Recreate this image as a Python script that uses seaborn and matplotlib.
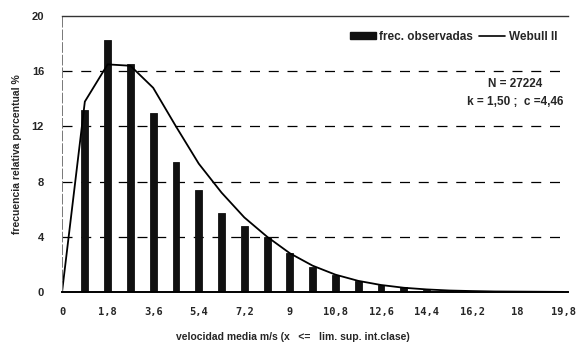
import matplotlib
matplotlib.use("Agg")
import matplotlib.pyplot as plt
import seaborn as sns
import pandas as pd
import numpy as np
from matplotlib.patches import Patch
from matplotlib.lines import Line2D

# data
speeds = [0, 0.9, 1.8, 2.7, 3.6, 4.5, 5.4, 6.3, 7.2, 8.1, 9.0, 9.9, 10.8,
          11.7, 12.6, 13.5, 14.4, 15.3, 16.2, 17.1, 18.0, 18.9, 19.8]
observed = [0, 13.2, 18.3, 16.5, 13.0, 9.4, 7.4, 5.7, 4.8, 4.0, 2.8, 1.8, 1.2,
            0.8, 0.5, 0.35, 0.15, 0.08, 0.04, 0.02, 0.01, 0.0, 0.0]
weibull = [0, 13.8, 16.5, 16.4, 14.8, 12.0, 9.3, 7.2, 5.4, 4.0, 2.8, 1.9, 1.25,
           0.8, 0.5, 0.3, 0.18, 0.1, 0.06, 0.03, 0.02, 0.01, 0.0]
tick_labels = ["0", "1,8", "3,6", "5,4", "7,2", "9", "10,8", "12,6", "14,4",
               "16,2", "18", "19,8"]
yticks = [0, 4, 8, 12, 16, 20]

sns.set_theme(style="white")
plt.rcParams['font.family'] = ['Liberation Sans', 'DejaVu Sans']

df = pd.DataFrame({"pos": np.arange(len(speeds)), "obs": observed, "wei": weibull})

fig = plt.figure(figsize=(5.8, 3.43), dpi=100)
ax = fig.add_axes([0.107, 0.149, 0.872, 0.804])

sns.barplot(data=df, x="pos", y="obs", ax=ax, color="#111111", width=0.3,
            saturation=1, native_scale=True, edgecolor="#111111", linewidth=0.6)

sns.lineplot(data=df, x="pos", y="wei", ax=ax, color="black", linewidth=1.3)

ax.set_xlim(0, 22.2)
ax.set_ylim(0, 20)
ax.set_yticks(yticks)
ax.set_yticklabels([str(v) for v in yticks], fontweight="bold", fontsize=8)
ax.set_xticks(np.arange(len(speeds)))
ax.set_xticklabels([tick_labels[i // 2] if i % 2 == 0 else "" for i in range(len(speeds))],
                   fontfamily="DejaVu Sans Mono", fontweight="bold", fontsize=7.5)
ax.tick_params(axis="x", direction="out", length=3, width=1, pad=8, color="black")
ax.tick_params(axis="y", direction="out", length=3, width=0.8, pad=10, color="black")

for v in [4, 8, 12, 16]:
    ax.axhline(v, color="black", linewidth=0.9, dashes=(8, 7), zorder=0)

ax.spines["right"].set_visible(False)
ax.spines["top"].set_color("#333333")
ax.spines["top"].set_linewidth(1.0)
ax.spines["left"].set_color("#777777")
ax.spines["left"].set_linewidth(0.7)
ax.spines["left"].set_linestyle((0, (10, 3)))
ax.spines["bottom"].set_color("black")
ax.spines["bottom"].set_linewidth(1.4)

ax.set_xlabel("velocidad media m/s (x   <=   lim. sup. int.clase)", fontsize=7.5,
              fontweight="bold")
ax.xaxis.set_label_coords(0.457, -0.145)
ax.set_ylabel("frecuencia relativa porcentual %", fontsize=7.5, fontweight="bold",
              labelpad=7)

handles = [Patch(facecolor="#111111", edgecolor="#111111"),
           Line2D([0], [0], color="black", linewidth=1.2)]
leg = ax.legend(handles, ["frec. observadas", "Webull II"], loc="upper right",
                bbox_to_anchor=(1.0, 0.985), ncol=2, frameon=False,
                handlelength=2.2, handleheight=0.5, columnspacing=0.5,
                handletextpad=0.3, prop={"weight": "bold", "size": 8.5})

ax.text(0.895, 0.755, "N = 27224", transform=ax.transAxes, ha="center",
        va="center", fontsize=8.5, fontweight="bold")
ax.text(0.895, 0.69, "k = 1,50 ;  c =4,46", transform=ax.transAxes, ha="center",
        va="center", fontsize=8.5, fontweight="bold")

fig.savefig("out.png", dpi=100)
